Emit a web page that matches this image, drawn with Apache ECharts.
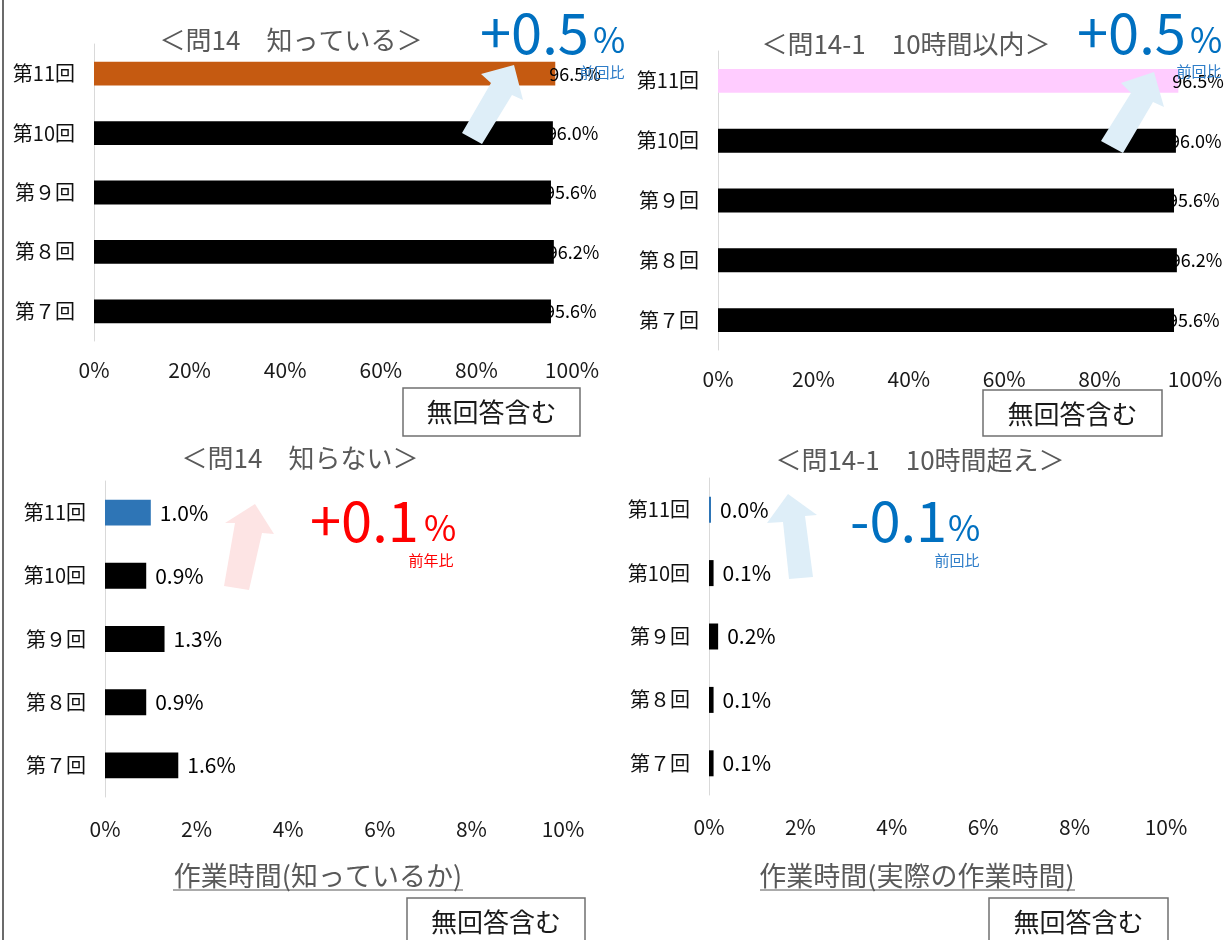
<!DOCTYPE html>
<html>
<head>
<meta charset="utf-8">
<script src="https://cdn.jsdelivr.net/npm/echarts@6/dist/echarts.min.js"></script>
<style>
html,body{margin:0;padding:0;background:#fff;}
#chart{width:1231px;height:940px;}
</style>
</head>
<body>
<div id="chart"></div>
<script>
// ---- data ----
const categories = ['第７回', '第８回', '第９回', '第10回', '第11回'];
const knowRates = [95.6, 96.2, 95.6, 96.0, 96.5];          // 問14 知っている
const within10hRates = [95.6, 96.2, 95.6, 96.0, 96.5];     // 問14-1 10時間以内
const unknownRates = [1.6, 0.9, 1.3, 0.9, 1.0];            // 問14 知らない
const over10hRates = [0.1, 0.1, 0.2, 0.1, 0.0];            // 問14-1 10時間超え
const topAxisMax = 100, topAxisStep = 20;
const bottomAxisMax = 10, bottomAxisStep = 2;
const titles = ['＜問14　知っている＞', '＜問14-1　10時間以内＞', '＜問14　知らない＞', '＜問14-1　10時間超え＞'];
const changes = ['+0.5', '+0.5', '+0.1', '-0.1'];
const changeNotes = ['前回比', '前回比', '前年比', '前回比'];
const footers = ['作業時間(知っているか)', '作業時間(実際の作業時間)'];
const boxLabel = '無回答含む';

const FONT = '"Noto Sans CJK JP", "Noto Sans", sans-serif';
const chart = echarts.init(document.getElementById('chart'), null, {renderer: 'canvas'});

function mark(values, hi) {
  return values.map((v, i) => i === values.length - 1 ? {value: v, itemStyle: {color: hi}} : v);
}

const grids = [
  {left: 94, right: 1231 - 572, top: 44, bottom: 940 - 341},
  {left: 718, right: 1231 - 1195, top: 51, bottom: 940 - 350},
  {left: 105, right: 1231 - 563, top: 481, bottom: 940 - 797},
  {left: 709, right: 1231 - 1166, top: 478, bottom: 940 - 795}
];

const xAxes = grids.map((g, i) => ({
  type: 'value', gridIndex: i, min: 0,
  max: i < 2 ? topAxisMax : bottomAxisMax,
  interval: i < 2 ? topAxisStep : bottomAxisStep,
  axisLine: {show: false}, axisTick: {show: false}, splitLine: {show: false},
  axisLabel: {formatter: '{value}%', color: '#1a1a1a', fontSize: 21, fontFamily: FONT, margin: i < 2 ? 19 : 22}
}));
const yAxes = grids.map((g, i) => ({
  type: 'category', gridIndex: i, data: categories,
  axisLine: {show: true, lineStyle: {color: '#D9D9D9', width: 1}},
  axisTick: {show: false},
  axisLabel: {color: '#111', fontSize: 20, fontFamily: FONT, margin: 19}
}));

const valueSets = [knowRates, within10hRates, unknownRates, over10hRates];
const hiColors = ['#C55A11', '#FFCCFF', '#2E75B6', '#2E75B6'];
const series = valueSets.map((vals, i) => ({
  type: 'bar', xAxisIndex: i, yAxisIndex: i,
  data: mark(vals, hiColors[i]),
  barCategoryGap: i < 2 ? '60%' : '59%',
  barMinHeight: i === 3 ? 2 : 0,
  itemStyle: {color: '#000'},
  label: {
    show: true, position: 'right',
    distance: i < 2 ? -6 : 9,
    color: '#000', fontFamily: FONT,
    fontSize: i < 2 ? 18 : 21,
    formatter: p => Number(p.value).toFixed(1) + '%'
  },
  animation: false
}));

// ---- decorations ----
const titlePos = [[291, 40], [906, 44], [300, 458], [920, 460]];
const bigPos = [[480, 593, 33, '#0070C0'], [1077, 1190, 33, '#0070C0'], [310, 424, 521, '#FF0000'], [850, 948, 521, '#0070C0']];
const notePos = [[602, 72, '#2E7DC8'], [1199, 71, '#2E7DC8'], [431, 560, '#FF0000'], [957, 560, '#2E7DC8']];
const arrows = [
  {pts: [[514, 65], [523, 100], [512, 95], [482, 144], [462, 133], [491, 83], [481, 74]], c: '#DEEEF8'},
  {pts: [[1154, 72], [1164, 107], [1153, 102], [1123, 153], [1101, 141], [1131, 93], [1121, 83]], c: '#DEEEF8'},
  {pts: [[255, 504], [274, 534], [262, 533], [249, 590], [224, 586], [235, 523], [225, 523]], c: '#FDE4E4'},
  {pts: [[788, 494], [817, 515], [805, 516], [813, 577], [789, 579], [783, 522], [767, 523]], c: '#DEEEF8'}
];
const boxes = [[403, 388, 177, 48], [983, 390, 179, 46], [407, 898, 178, 50], [989, 898, 179, 50]];
const footPos = [[318, 876, 173, 463], [917, 876, 760, 1075]];

const graphic = [];
graphic.push({type: 'line', shape: {x1: 3, y1: 0, x2: 3, y2: 940}, style: {stroke: '#6b6b6b', lineWidth: 2}, z: 10});
arrows.forEach(a => graphic.push({type: 'polygon', shape: {points: a.pts}, style: {fill: a.c}, z: 5}));
titles.forEach((t, i) => graphic.push({
  type: 'text', x: titlePos[i][0], y: titlePos[i][1], z: 10,
  style: {text: t, fill: '#595959', fontSize: 26, fontFamily: FONT, align: 'center', verticalAlign: 'middle'}
}));
changes.forEach((t, i) => {
  const b = bigPos[i];
  graphic.push({type: 'text', x: b[0], y: b[2], z: 10,
    style: {text: t, fill: b[3], fontSize: 56, fontFamily: FONT, align: 'left', verticalAlign: 'middle'}});
  graphic.push({type: 'text', x: b[1], y: b[2] + 7, z: 10,
    style: {text: '%', fill: b[3], fontSize: 35, fontFamily: FONT, align: 'left', verticalAlign: 'middle'}});
});
changeNotes.forEach((t, i) => graphic.push({
  type: 'text', x: notePos[i][0], y: notePos[i][1], z: 10,
  style: {text: t, fill: notePos[i][2], fontSize: 15, fontFamily: FONT, align: 'center', verticalAlign: 'middle'}
}));
boxes.forEach(b => {
  graphic.push({type: 'rect', shape: {x: b[0], y: b[1], width: b[2], height: b[3]}, style: {fill: '#fff', stroke: '#707070', lineWidth: 1.5}, z: 10});
  graphic.push({type: 'text', x: b[0] + b[2] / 2, y: b[1] + 24, z: 11,
    style: {text: boxLabel, fill: '#1a1a1a', fontSize: 26, fontFamily: FONT, align: 'center', verticalAlign: 'middle'}});
});
footers.forEach((t, i) => {
  const f = footPos[i];
  graphic.push({type: 'text', x: f[0], y: f[1], z: 10,
    style: {text: t, fill: '#595959', fontSize: 27, fontFamily: FONT, align: 'center', verticalAlign: 'middle'}});
  graphic.push({type: 'line', shape: {x1: f[2], y1: f[1] + 14, x2: f[3], y2: f[1] + 14}, style: {stroke: '#595959', lineWidth: 1.2}, z: 10});
});

chart.setOption({
  animation: false,
  backgroundColor: '#fff',
  textStyle: {fontFamily: FONT},
  grid: grids,
  xAxis: xAxes,
  yAxis: yAxes,
  series: series,
  graphic: graphic
});
</script>
</body>
</html>
